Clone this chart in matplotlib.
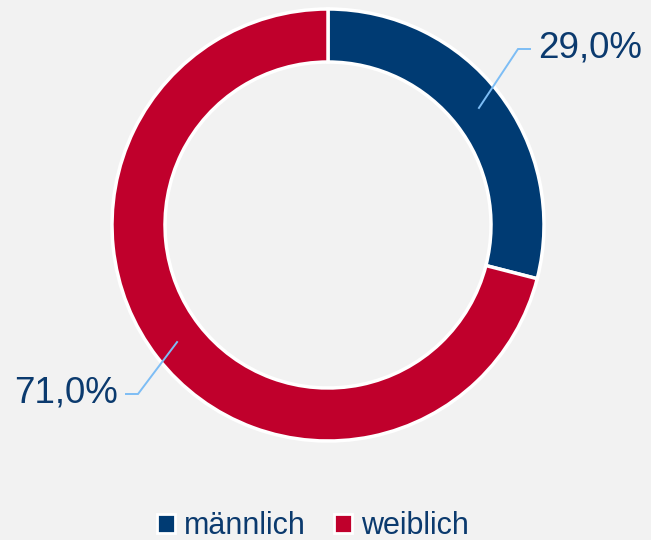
import matplotlib
matplotlib.use("Agg")
import matplotlib.pyplot as plt
from matplotlib.patches import Patch
import numpy as np

plt.rcParams['font.family'] = ['Liberation Sans', 'DejaVu Sans']

# Geschlechterverteilung
categories = ["männlich", "weiblich"]
shares = [29.0, 71.0]
colors = ["#003b73", "#c0002c"]

text_col = "#0b3a6e"
line_col = "#7dbdf5"
bg = "#f2f2f2"

fig = plt.figure(figsize=(6.51, 5.40), dpi=100, facecolor=bg)
# outer radius ~216 px, centre at (328, 225) px from top-left
ax = fig.add_axes([(328 - 216) / 651, (540 - 441) / 540, 432 / 651, 432 / 540])
ax.set_facecolor(bg)

wedges, _ = ax.pie(shares, colors=colors, startangle=90, counterclock=False,
                   radius=1.0,
                   wedgeprops=dict(width=53 / 216, edgecolor="white", linewidth=2.5))
ax.set_xlim(-1, 1)
ax.set_ylim(-1, 1)
ax.set_aspect("equal")
ax.axis("off")

# leader lines + labels
r_mid = 191 / 216
for w, v in zip(wedges, shares):
    mid = np.deg2rad((w.theta1 + w.theta2) / 2)
    x0, y0 = r_mid * np.cos(mid), r_mid * np.sin(mid)
    side = 1 if np.cos(mid) > 0 else -1
    ex, ey = side * 190 / 216, (176 if side > 0 else -169) / 216
    hx = side * 202 / 216
    ax.plot([x0, ex, hx], [y0, ey, ey], color=line_col, lw=1.4,
            clip_on=False, solid_joinstyle="miter")
    lab = ("%.1f%%" % v).replace(".", ",")
    ax.text(side * 210 / 216, ey + 1 / 216, lab, ha="left" if side > 0 else "right",
            va="center", fontsize=26.5, color=text_col, clip_on=False)

handles = [Patch(facecolor=c, edgecolor="white", linewidth=2) for c in colors]
fig.legend(handles, categories, loc="center", bbox_to_anchor=(313 / 651, 14 / 540),
           ncol=2, frameon=False, fontsize=22, labelcolor=text_col,
           handlelength=0.6, handleheight=0.6, handletextpad=0.3,
           columnspacing=0.9)

fig.savefig("out.png", dpi=100, facecolor=bg)
